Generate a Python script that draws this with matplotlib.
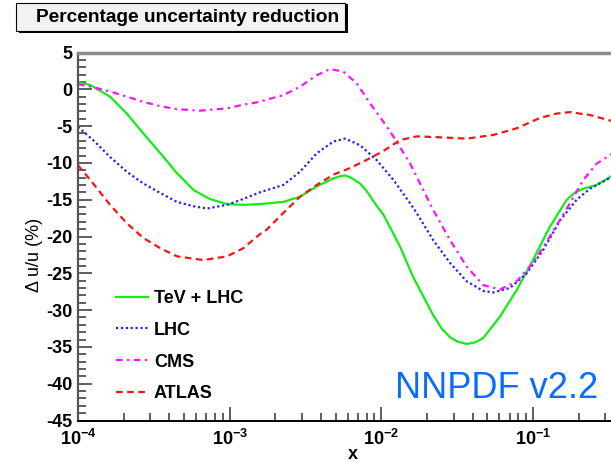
import numpy as np
import matplotlib
matplotlib.use("Agg")
import matplotlib.pyplot as plt
from matplotlib.patches import Rectangle
from matplotlib.ticker import MultipleLocator, FixedLocator, LogLocator, NullFormatter

plt.rcParams['font.family'] = ['Liberation Sans', 'DejaVu Sans']
plt.rcParams['axes.unicode_minus'] = False
plt.rcParams['mathtext.fontset'] = 'custom'
plt.rcParams['mathtext.rm'] = 'Liberation Sans'
plt.rcParams['mathtext.bf'] = 'Liberation Sans:bold'

# data
x_tev = [1.0e-4, 1.2e-4, 1.63e-4, 2.1e-4, 2.7e-4, 3.5e-4, 4.5e-4, 5.8e-4, 7.4e-4, 9.6e-4,
         1.23e-3, 1.58e-3, 2.26e-3, 2.91e-3, 3.75e-3, 4.83e-3, 5.4e-3, 5.77e-3, 6.3e-3, 7.24e-3,
         8.0e-3, 9.3e-3, 1.03e-2, 1.2e-2, 1.33e-2, 1.63e-2, 2.2e-2, 2.5e-2, 2.84e-2, 3.2e-2,
         3.66e-2, 4.15e-2, 4.7e-2, 6.05e-2, 7.8e-2, 0.1, 0.129, 0.167, 0.19, 0.215, 0.263, 0.33]
y_tev = [1.0, 0.6, -1.0, -3.3, -6.0, -8.7, -11.4, -13.7, -14.9, -15.6,
         -15.7, -15.6, -15.3, -14.6, -13.2, -12.1, -11.8, -11.7, -12.0, -12.8,
         -13.8, -15.8, -17.0, -19.6, -21.4, -25.6, -30.7, -32.5, -33.7, -34.3,
         -34.6, -34.4, -33.8, -30.9, -27.3, -23.2, -18.7, -15.0, -14.0, -13.5, -13.0, -11.8]

x_lhc = [1.0e-4, 1.26e-4, 1.63e-4, 2.1e-4, 2.7e-4, 3.5e-4, 4.5e-4, 5.8e-4, 7.1e-4, 9.6e-4,
         1.23e-3, 1.58e-3, 2.26e-3, 2.91e-3, 3.75e-3, 4.83e-3, 5.77e-3, 7.24e-3, 9.3e-3, 1.2e-2,
         1.55e-2, 1.71e-2, 2.2e-2, 2.84e-2, 3.66e-2, 4.7e-2, 5.47e-2, 7.05e-2, 9.08e-2, 0.117,
         0.151, 0.194, 0.238, 0.33]
y_lhc = [-5.1, -6.9, -9.2, -11.2, -12.8, -14.1, -15.3, -15.9, -16.2, -15.7,
         -14.9, -14.0, -13.0, -11.2, -8.7, -7.1, -6.7, -7.6, -9.6, -12.3,
         -15.5, -16.8, -20.5, -23.6, -26.1, -27.4, -27.6, -27.0, -25.0, -21.8,
         -17.8, -15.0, -13.5, -11.9]

x_cms = [1.0e-4, 1.26e-4, 1.63e-4, 2.1e-4, 2.7e-4, 3.5e-4, 4.5e-4, 6.4e-4, 9.6e-4, 1.23e-3,
         1.58e-3, 1.75e-3, 2.26e-3, 2.91e-3, 3.75e-3, 4.59e-3, 5.62e-3, 6.89e-3, 8.43e-3, 1.03e-2,
         1.2e-2, 1.55e-2, 1.99e-2, 2.2e-2, 2.84e-2, 3.66e-2, 4.7e-2, 6.05e-2, 7.8e-2, 0.1,
         0.129, 0.167, 0.215, 0.263, 0.33]
y_cms = [0.7, 0.3, -0.3, -1.0, -1.7, -2.3, -2.7, -2.9, -2.6, -2.1,
         -1.7, -1.4, -0.8, 0.35, 1.9, 2.75, 2.4, 0.8, -1.9, -4.4,
         -6.4, -10.1, -14.6, -16.4, -20.5, -24.1, -26.6, -27.2, -26.1, -23.6,
         -20.0, -16.2, -12.3, -10.1, -8.8]

x_atlas = [1.0e-4, 1.26e-4, 1.63e-4, 2.1e-4, 2.7e-4, 3.5e-4, 4.5e-4, 6.7e-4, 9.6e-4, 1.23e-3,
           1.58e-3, 1.75e-3, 2.26e-3, 2.91e-3, 3.75e-3, 4.83e-3, 6.22e-3, 8.0e-3, 1.03e-2, 1.33e-2,
           1.71e-2, 2.32e-2, 3.66e-2, 5.47e-2, 7.8e-2, 0.111, 0.143, 0.175, 0.238, 0.33]
y_atlas = [-10.3, -12.8, -15.7, -18.2, -20.2, -21.6, -22.7, -23.2, -22.7, -21.6,
           -19.7, -19.1, -16.8, -14.6, -13.0, -11.6, -10.7, -9.6, -8.4, -6.9,
           -6.4, -6.5, -6.7, -6.2, -5.3, -3.9, -3.3, -3.1, -3.5, -4.3]

labels = ['TeV + LHC', 'LHC', 'CMS', 'ATLAS']
x_ticks = [1e-4, 1e-3, 1e-2, 1e-1]
x_ticklabels = [r'$\mathbf{10^{-4}}$', r'$\mathbf{10^{-3}}$', r'$\mathbf{10^{-2}}$',
                r'$\mathbf{10^{-1}}$']

W, H = 611, 462
fig = plt.figure(figsize=(W / 100, H / 100), dpi=100)
fig.patch.set_facecolor('white')

# axes run past the right edge (the reference is cropped there)
ax_l, ax_r, ax_t, ax_b = 77.9, 684.7, 52.5, 420.5
ax = fig.add_axes([ax_l / W, 1 - ax_b / H, (ax_r - ax_l) / W, (ax_b - ax_t) / H])

kw = dict(lw=1.6, solid_joinstyle='round', dash_joinstyle='round')
ax.plot(x_tev, y_tev, color='#11ee11', ls='-', label=labels[0], **kw)
ax.plot(x_lhc, y_lhc, color='#2222ff', ls=(0, (1, 1.2)), label=labels[1], **kw)
ax.plot(x_cms, y_cms, color='#ff11ff', ls=(0, (3, 2, 1, 2)), label=labels[2], **kw)
ax.plot(x_atlas, y_atlas, color='#ff1111', ls=(0, (3, 2)), label=labels[3], **kw)

ax.set_xscale('log')
ax.set_xlim(1e-4, 1)
ax.set_ylim(-45, 5)

ax.xaxis.set_major_locator(FixedLocator(x_ticks))
ax.set_xticklabels(x_ticklabels)
ax.xaxis.set_minor_locator(LogLocator(base=10, subs=np.arange(2, 10)))
ax.xaxis.set_minor_formatter(NullFormatter())
ax.yaxis.set_major_locator(MultipleLocator(5))
ax.yaxis.set_minor_locator(MultipleLocator(1))

ax.tick_params(axis='both', which='major', direction='in', length=10, width=1.1,
               labelsize=13, color='#333333')
ax.tick_params(axis='both', which='minor', direction='in', length=5.5, width=1.1,
               color='#333333')
ax.tick_params(axis='x', pad=6)
ax.tick_params(axis='y', pad=4)
for lab in ax.get_yticklabels():
    lab.set_fontweight('bold')

ax.spines['top'].set_color('#888888')
ax.spines['top'].set_linewidth(2.5)
ax.spines['left'].set_color('#555555')
ax.spines['left'].set_linewidth(1.6)
ax.spines['bottom'].set_color('black')
ax.spines['bottom'].set_linewidth(1.4)
ax.spines['right'].set_visible(False)

ax.set_xlabel('x', fontsize=13, fontweight='bold')
ax.xaxis.set_label_coords((353 - ax_l) / (ax_r - ax_l), -0.07)
ax.set_ylabel(u'\u0394 u/u (%)', fontsize=13)
ax.yaxis.set_label_coords(-(ax_l - 43) / (ax_r - ax_l), 0.45)

leg = ax.legend(loc='upper left', bbox_to_anchor=(116 / W, 1 - 290 / H),
                bbox_transform=fig.transFigure, frameon=False,
                prop={'size': 13, 'weight': 'bold'}, handlelength=1.75,
                handletextpad=0.35, labelspacing=0.82, borderaxespad=0, borderpad=0)

fig.text(395 / W, 1 - 398 / H, 'NNPDF v2.2', color='#0a6cff', fontsize=26,
         ha='left', va='baseline')

# title box with shadow
fig.patches.append(Rectangle((19 / W, 1 - 33 / H), (345 - 16) / W, 29 / H,
                             transform=fig.transFigure, facecolor='black',
                             edgecolor='none', zorder=1))
fig.patches.append(Rectangle((16 / W, 1 - 31 / H), (345 - 16) / W, 28 / H,
                             transform=fig.transFigure, facecolor='#f2f2f2',
                             edgecolor='black', lw=0.8, zorder=2))
fig.text(188 / W, 1 - 17 / H, 'Percentage uncertainty reduction', fontsize=13.8,
         fontweight='bold', ha='center', va='center', zorder=3)

fig.savefig('out.png', dpi=100)
